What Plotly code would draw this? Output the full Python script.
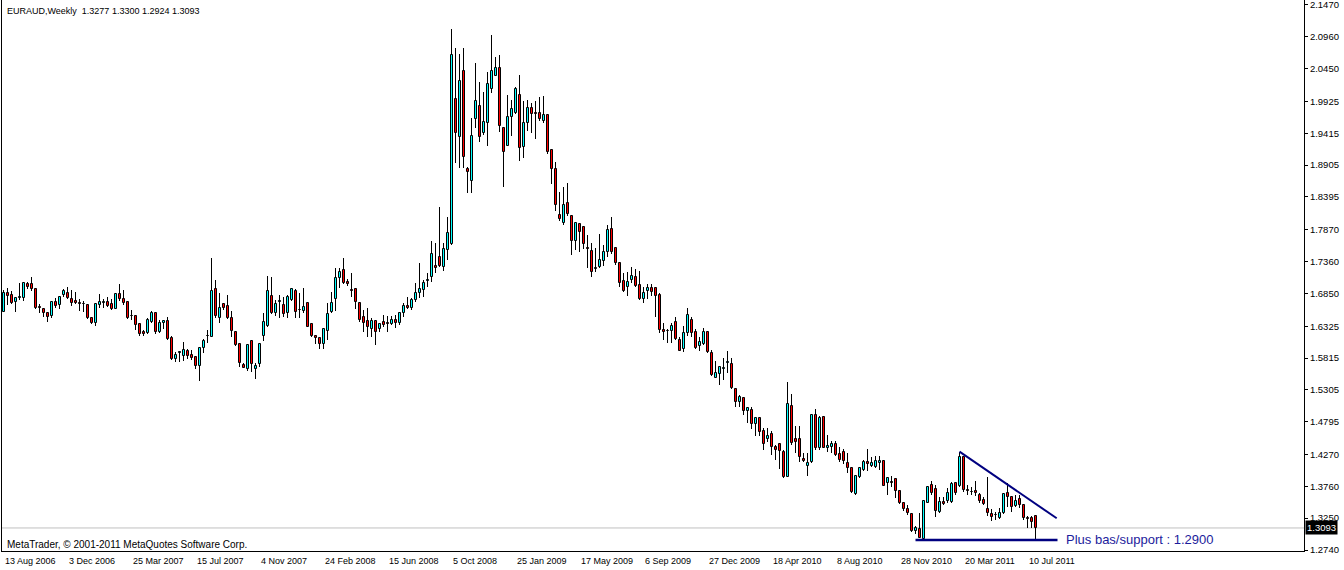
import plotly.graph_objects as go

# ---------------- data (EURAUD weekly) ----------------
opens = [
    1.6558, 1.6851, 1.6825, 1.6718, 1.6782, 1.6771, 1.7001, 1.7001, 1.6921, 1.6627,
    1.6595, 1.6542, 1.6488, 1.6712, 1.6659, 1.6819, 1.6862, 1.6760, 1.6728, 1.6691,
    1.6686, 1.6664, 1.6451, 1.6381, 1.6670, 1.6691, 1.6707, 1.6680, 1.6600, 1.6840,
    1.6755, 1.6707, 1.6493, 1.6488, 1.6360, 1.6232, 1.6210, 1.6397, 1.6542, 1.6237,
    1.6371, 1.6403, 1.6130, 1.5805, 1.5895, 1.5853, 1.5933, 1.5858, 1.5826, 1.5693,
    1.5981, 1.6162, 1.6157, 1.6915, 1.6461, 1.6675, 1.6649, 1.6451, 1.6226, 1.6034,
    1.5703, 1.5634, 1.6088, 1.5645, 1.5719, 1.6173, 1.6328, 1.6809, 1.6542, 1.6713,
    1.6665, 1.6531, 1.6745, 1.6889, 1.6590, 1.6574, 1.6691, 1.6360, 1.6168, 1.6130,
    1.6034, 1.6253, 1.6558, 1.6755, 1.7092, 1.7225, 1.7038, 1.6905, 1.6921, 1.6702,
    1.6477, 1.6414, 1.6275, 1.6414, 1.6275, 1.6392, 1.6376, 1.6355, 1.6419, 1.6380,
    1.6530, 1.6650, 1.6620, 1.6744, 1.6862, 1.6904, 1.7048, 1.7118, 1.7294, 1.7438,
    1.7278, 1.7545, 1.7636, 1.9959, 1.9350, 2.0413, 1.8843, 1.8656, 1.9638, 1.9852,
    1.9425, 1.9574, 2.0119, 2.0338, 2.0455, 1.9494, 1.9216, 1.9670, 1.9734, 2.0028,
    1.9201, 1.9574, 1.9815, 1.9735, 1.9735, 1.9617, 1.9713, 1.9142, 1.8843, 1.8106,
    1.7983, 1.8293, 1.8090, 1.7695, 1.7962, 1.7919, 1.7572, 1.7529, 1.7247, 1.7278,
    1.7375, 1.7519, 1.7876, 1.7572, 1.7343, 1.7054, 1.6948, 1.7065, 1.7108, 1.6985,
    1.6760, 1.6894, 1.6931, 1.6931, 1.6824, 1.6264, 1.6253, 1.6253, 1.6387, 1.6104,
    1.5954, 1.6211, 1.6424, 1.6237, 1.6013, 1.6034, 1.6227, 1.5890, 1.5500, 1.5559,
    1.5645, 1.5736, 1.5714, 1.5314, 1.5105, 1.5169, 1.4972, 1.4983, 1.4753, 1.4849,
    1.4646, 1.4518, 1.4593, 1.4384, 1.4438, 1.4304, 1.3915, 1.5047, 1.4518, 1.4513,
    1.4198, 1.4091, 1.4144, 1.4902, 1.4379, 1.4865, 1.4368, 1.4395, 1.4438, 1.4272,
    1.4315, 1.4128, 1.4048, 1.3637, 1.3904, 1.4029, 1.4155, 1.4086, 1.4064, 1.4128,
    1.4171, 1.3819, 1.3824, 1.3872, 1.3690, 1.3498, 1.3391, 1.3317, 1.3050, 1.3071,
    1.2916, 1.3498, 1.3781, 1.3717, 1.3354, 1.3509, 1.3530, 1.3514, 1.3808, 1.3765,
    1.4224, 1.3695, 1.3674, 1.3690, 1.3621, 1.3541, 1.3391, 1.3311, 1.3306, 1.3247,
    1.3327, 1.3648, 1.3584, 1.3450, 1.3552, 1.3461, 1.3252, 1.3247, 1.3277,
]
highs = [
    1.6905, 1.6931, 1.6894, 1.6798, 1.7011, 1.7038, 1.7027, 1.7118, 1.6931, 1.6680,
    1.6611, 1.6558, 1.6728, 1.6771, 1.6814, 1.6915, 1.6947, 1.6905, 1.6878, 1.6755,
    1.6734, 1.6675, 1.6461, 1.6691, 1.6840, 1.6755, 1.6798, 1.6760, 1.6851, 1.7001,
    1.6905, 1.6718, 1.6584, 1.6504, 1.6371, 1.6264, 1.6451, 1.6568, 1.6558, 1.6424,
    1.6424, 1.6467, 1.6168, 1.5917, 1.5917, 1.6077, 1.5954, 1.5943, 1.5842, 1.5986,
    1.6114, 1.6264, 1.7412, 1.7065, 1.6852, 1.6702, 1.6825, 1.6574, 1.6237, 1.6050,
    1.5730, 1.6024, 1.6104, 1.5730, 1.6040, 1.6542, 1.7129, 1.7118, 1.6745, 1.6825,
    1.6798, 1.6825, 1.6942, 1.6916, 1.6852, 1.6932, 1.6702, 1.6371, 1.6184, 1.6146,
    1.6301, 1.6691, 1.6878, 1.7252, 1.7252, 1.7412, 1.7076, 1.7172, 1.6932, 1.6718,
    1.6585, 1.6611, 1.6451, 1.6424, 1.6382, 1.6504, 1.6488, 1.6488, 1.6500, 1.6560,
    1.6700, 1.6790, 1.6780, 1.7011, 1.7331, 1.7064, 1.7171, 1.7689, 1.7652, 1.8229,
    1.7652, 1.8079, 2.1080, 2.0776, 2.0685, 2.0776, 1.8880, 1.9654, 2.0535, 2.0242,
    2.0082, 2.0402, 2.0989, 2.0642, 2.0669, 1.9521, 2.0028, 1.9948, 2.0162, 2.0349,
    1.9938, 1.9948, 1.9906, 1.9938, 1.9991, 2.0012, 1.9724, 1.9147, 1.8955, 1.8469,
    1.8549, 1.8613, 1.8106, 1.7999, 1.7983, 1.7930, 1.7786, 1.7652, 1.7572, 1.7802,
    1.7625, 1.7946, 1.8069, 1.7580, 1.7359, 1.7172, 1.7198, 1.7268, 1.7236, 1.7214,
    1.6948, 1.7001, 1.7001, 1.6948, 1.6851, 1.6371, 1.6275, 1.6371, 1.6467, 1.6146,
    1.6328, 1.6611, 1.6478, 1.6275, 1.6146, 1.6291, 1.6237, 1.5944, 1.5773, 1.5687,
    1.5810, 1.5933, 1.5810, 1.5340, 1.5223, 1.5185, 1.5025, 1.5025, 1.4876, 1.4865,
    1.4689, 1.4689, 1.4652, 1.4422, 1.4449, 1.4342, 1.5426, 1.5239, 1.4726, 1.4726,
    1.4299, 1.4288, 1.4918, 1.4993, 1.4886, 1.4876, 1.4582, 1.4491, 1.4491, 1.4384,
    1.4352, 1.4299, 1.4060, 1.3941, 1.4075, 1.4182, 1.4353, 1.4235, 1.4246, 1.4246,
    1.4171, 1.3888, 1.3925, 1.3888, 1.3701, 1.3514, 1.3461, 1.3317, 1.3124, 1.3327,
    1.3541, 1.3765, 1.3851, 1.3781, 1.3584, 1.3584, 1.3728, 1.3835, 1.3835, 1.4315,
    1.4235, 1.3781, 1.3755, 1.3851, 1.3648, 1.3584, 1.3904, 1.3391, 1.3354, 1.3407,
    1.3648, 1.3808, 1.3605, 1.3621, 1.3621, 1.3477, 1.3285, 1.3285, 1.3300,
]
lows = [
    1.6547, 1.6664, 1.6675, 1.6558, 1.6744, 1.6734, 1.6915, 1.6894, 1.6606, 1.6542,
    1.6467, 1.6397, 1.6451, 1.6611, 1.6595, 1.6798, 1.6755, 1.6648, 1.6680, 1.6574,
    1.6558, 1.6435, 1.6360, 1.6333, 1.6611, 1.6611, 1.6627, 1.6584, 1.6595, 1.6734,
    1.6664, 1.6435, 1.6424, 1.6264, 1.6168, 1.6168, 1.6200, 1.6381, 1.6194, 1.6210,
    1.6274, 1.6104, 1.5783, 1.5757, 1.5757, 1.5773, 1.5794, 1.5783, 1.5634, 1.5452,
    1.5901, 1.6050, 1.6146, 1.6451, 1.6371, 1.6584, 1.6435, 1.6146, 1.6002, 1.5666,
    1.5650, 1.5612, 1.5596, 1.5474, 1.5676, 1.6093, 1.6307, 1.6520, 1.6488, 1.6451,
    1.6477, 1.6451, 1.6734, 1.6451, 1.6451, 1.6531, 1.6307, 1.6146, 1.6040, 1.5954,
    1.5954, 1.6104, 1.6542, 1.6574, 1.6932, 1.7001, 1.6969, 1.6798, 1.6595, 1.6397,
    1.6237, 1.6157, 1.6157, 1.6024, 1.6237, 1.6307, 1.6237, 1.6344, 1.6290, 1.6350,
    1.6480, 1.6600, 1.6580, 1.6717, 1.6771, 1.6798, 1.6958, 1.7038, 1.7171, 1.7278,
    1.7214, 1.7385, 1.7625, 1.8944, 1.8854, 1.8854, 1.8464, 1.8464, 1.9494, 1.9280,
    1.9387, 1.9211, 2.0066, 2.0333, 1.9441, 1.8560, 1.9211, 1.9371, 1.9724, 1.8976,
    1.9014, 1.9457, 1.9414, 1.9323, 1.9617, 1.9585, 1.9083, 1.8603, 1.8175, 1.8015,
    1.7946, 1.8090, 1.7465, 1.7545, 1.7519, 1.7556, 1.7252, 1.7108, 1.7198, 1.7262,
    1.7294, 1.7439, 1.7481, 1.7305, 1.6948, 1.6878, 1.6808, 1.7022, 1.6948, 1.6744,
    1.6691, 1.6760, 1.6808, 1.6478, 1.6221, 1.6104, 1.6050, 1.6061, 1.6104, 1.5933,
    1.5917, 1.6168, 1.6146, 1.5960, 1.5933, 1.6024, 1.5901, 1.5527, 1.5490, 1.5383,
    1.5463, 1.5570, 1.5314, 1.5036, 1.5025, 1.4902, 1.4769, 1.4678, 1.4566, 1.4571,
    1.4342, 1.4475, 1.4262, 1.4182, 1.4032, 1.3888, 1.3915, 1.4422, 1.4299, 1.4155,
    1.4155, 1.3925, 1.4139, 1.4342, 1.4342, 1.4368, 1.4315, 1.4299, 1.4251, 1.4155,
    1.4112, 1.3968, 1.3650, 1.3621, 1.3888, 1.4011, 1.4011, 1.4064, 1.4048, 1.4022,
    1.3765, 1.3621, 1.3755, 1.3568, 1.3477, 1.3370, 1.3301, 1.3034, 1.2991, 1.2927,
    1.2900, 1.3488, 1.3621, 1.3274, 1.3327, 1.3456, 1.3488, 1.3488, 1.3621, 1.3755,
    1.3674, 1.3621, 1.3621, 1.3605, 1.3488, 1.3461, 1.3285, 1.3210, 1.3221, 1.3231,
    1.3311, 1.3434, 1.3354, 1.3434, 1.3407, 1.3221, 1.3087, 1.3087, 1.2924,
]
closes = [
    1.6851, 1.6814, 1.6702, 1.6771, 1.6787, 1.7011, 1.6947, 1.6926, 1.6622, 1.6616,
    1.6542, 1.6477, 1.6712, 1.6648, 1.6798, 1.6894, 1.6771, 1.6702, 1.6696, 1.6686,
    1.6675, 1.6461, 1.6381, 1.6680, 1.6712, 1.6712, 1.6654, 1.6600, 1.6840, 1.6766,
    1.6702, 1.6461, 1.6483, 1.6344, 1.6200, 1.6200, 1.6424, 1.6542, 1.6237, 1.6381,
    1.6408, 1.6114, 1.5799, 1.5858, 1.5906, 1.5943, 1.5853, 1.5815, 1.5693, 1.5975,
    1.6088, 1.6173, 1.6889, 1.6488, 1.6611, 1.6622, 1.6451, 1.6253, 1.6024, 1.5730,
    1.5661, 1.6024, 1.5719, 1.5687, 1.6040, 1.6397, 1.6889, 1.6531, 1.6680, 1.6734,
    1.6520, 1.6798, 1.6921, 1.6558, 1.6579, 1.6627, 1.6317, 1.6173, 1.6130, 1.6034,
    1.6280, 1.6515, 1.6691, 1.7092, 1.7198, 1.7022, 1.7006, 1.6894, 1.6707, 1.6424,
    1.6382, 1.6307, 1.6414, 1.6237, 1.6360, 1.6339, 1.6365, 1.6419, 1.6380, 1.6530,
    1.6650, 1.6620, 1.6744, 1.6851, 1.6915, 1.7011, 1.7059, 1.7476, 1.7251, 1.7289,
    1.7556, 1.7812, 2.0669, 1.9425, 2.0252, 1.9030, 1.8800, 1.9371, 1.9932, 1.9350,
    1.9590, 2.0199, 2.0413, 2.0455, 1.9537, 1.9110, 1.9670, 1.9798, 2.0119, 1.9178,
    1.9574, 1.9815, 1.9718, 1.9724, 1.9638, 1.9708, 1.9121, 1.8838, 1.8266, 1.8037,
    1.8266, 1.8117, 1.7695, 1.7972, 1.7839, 1.7636, 1.7556, 1.7198, 1.7257, 1.7385,
    1.7508, 1.7866, 1.7519, 1.7332, 1.7022, 1.6894, 1.7028, 1.7129, 1.6969, 1.6760,
    1.6851, 1.6942, 1.6878, 1.6814, 1.6264, 1.6227, 1.6243, 1.6328, 1.6120, 1.5933,
    1.6211, 1.6504, 1.6211, 1.5981, 1.6066, 1.6227, 1.5917, 1.5543, 1.5570, 1.5677,
    1.5655, 1.5746, 1.5330, 1.5116, 1.5196, 1.4972, 1.5009, 1.4753, 1.4849, 1.4635,
    1.4438, 1.4571, 1.4395, 1.4342, 1.4331, 1.3904, 1.5073, 1.4459, 1.4475, 1.4224,
    1.4171, 1.4128, 1.4902, 1.4368, 1.4849, 1.4379, 1.4406, 1.4438, 1.4262, 1.4182,
    1.4171, 1.4048, 1.3664, 1.3925, 1.4048, 1.4155, 1.4118, 1.4128, 1.4171, 1.4166,
    1.3770, 1.3888, 1.3814, 1.3690, 1.3488, 1.3391, 1.3327, 1.3044, 1.3087, 1.2927,
    1.3525, 1.3744, 1.3658, 1.3370, 1.3504, 1.3472, 1.3648, 1.3792, 1.3648, 1.4235,
    1.3701, 1.3685, 1.3669, 1.3648, 1.3525, 1.3472, 1.3327, 1.3274, 1.3296, 1.3338,
    1.3637, 1.3584, 1.3434, 1.3525, 1.3461, 1.3247, 1.3242, 1.3194, 1.3093,
]

date_labels = ["13 Aug 2006", "3 Dec 2006", "25 Mar 2007", "15 Jul 2007", "4 Nov 2007",
               "24 Feb 2008", "15 Jun 2008", "5 Oct 2008", "25 Jan 2009", "17 May 2009",
               "6 Sep 2009", "27 Dec 2009", "18 Apr 2010", "8 Aug 2010", "28 Nov 2010",
               "20 Mar 2011", "10 Jul 2011"]
bars_per_label = 16
price_ticks = [2.1470, 2.0960, 2.0450, 1.9925, 1.9415, 1.8905, 1.8395, 1.7870, 1.7360,
               1.6850, 1.6325, 1.5815, 1.5305, 1.4795, 1.4270, 1.3760, 1.3250, 1.2740]

support_level = 1.2900
support_start_bar = 228
trend_start_bar = 239
trend_end_bar = 263.3
trend_end_price = 1.3248
lines_end_bar = 263.5

symbol_title = "EURAUD,Weekly  1.3277 1.3300 1.2924 1.3093"
copyright_text = "MetaTrader, © 2001-2011 MetaQuotes Software Corp."
support_text = "Plus bas/support : 1.2900"

# ---------------- figure ----------------
n = len(opens)
xs = list(range(n))
FONT = "Liberation Sans"
NAVY = "#000080"
BULL = "#00ffff"
BEAR = "#ff0000"

body_base = [min(o, c) for o, c in zip(opens, closes)]
body_len = [max(abs(c - o), 0.00001) for o, c in zip(opens, closes)]
wick_len = [h - l for h, l in zip(highs, lows)]
body_col = [BULL if c >= o else BEAR for o, c in zip(opens, closes)]

fig = go.Figure()
# wicks (high-low range)
fig.add_trace(go.Bar(x=xs, y=wick_len, base=lows, width=0.25,
                     marker=dict(color="black", line=dict(width=0)),
                     hoverinfo="skip", showlegend=False))
# bodies (open-close)
fig.add_trace(go.Bar(x=xs, y=body_len, base=body_base, width=0.5,
                     marker=dict(color=body_col, line=dict(color="black", width=1)),
                     hoverinfo="skip", showlegend=False))

shapes = [
    dict(type="line", xref="paper", x0=0, x1=1, yref="y", y0=closes[-1], y1=closes[-1],
         line=dict(color="#c0c0c0", width=1), layer="below"),
    dict(type="line", xref="x", yref="y", x0=support_start_bar, x1=lines_end_bar,
         y0=support_level, y1=support_level, line=dict(color=NAVY, width=2.5)),
    dict(type="line", xref="x", yref="y", x0=trend_start_bar, y0=highs[trend_start_bar],
         x1=trend_end_bar, y1=trend_end_price, line=dict(color=NAVY, width=2)),
]

annotations = [
    dict(xref="paper", yref="paper", x=0, y=1, xanchor="left", yanchor="top",
         xshift=3, yshift=-4, text=symbol_title, showarrow=False,
         font=dict(family=FONT, size=9, color="black")),
    dict(xref="paper", yref="paper", x=0, y=0, xanchor="left", yanchor="bottom",
         xshift=3, yshift=-1, text=copyright_text, showarrow=False,
         font=dict(family=FONT, size=10, color="black")),
    dict(xref="x", yref="y", x=lines_end_bar, y=support_level, xanchor="left",
         yanchor="middle", xshift=6, yshift=1, text=support_text, showarrow=False,
         font=dict(family=FONT, size=13, color="#1c1c9c")),
    dict(xref="paper", yref="y", x=1, y=closes[-1], xanchor="left", yanchor="middle",
         xshift=1, text="%.4f" % closes[-1], showarrow=False, bgcolor="black",
         borderpad=1, font=dict(family=FONT, size=9.5, color="white")),
]
for k, lab in enumerate(date_labels):
    annotations.append(dict(xref="x", yref="paper", x=k * bars_per_label, y=0,
                            xanchor="left", yanchor="top", yshift=-3, xshift=-1,
                            text=lab, showarrow=False,
                            font=dict(family=FONT, size=9, color="black")))

fig.update_layout(
    width=1344, height=570,
    margin=dict(l=2, r=40, t=0, b=19, pad=0),
    paper_bgcolor="white", plot_bgcolor="white",
    barmode="overlay", bargap=0,
    showlegend=False,
    shapes=shapes, annotations=annotations,
    xaxis=dict(range=[-0.375, 325.125], showticklabels=False, ticks="", showgrid=False,
               zeroline=False, showline=True, linecolor="black", linewidth=1,
               fixedrange=True),
    yaxis=dict(side="right", range=[1.2724, 2.155], tickvals=price_ticks,
               ticktext=["%.4f" % v for v in price_ticks], ticks="outside", ticklen=3,
               tickcolor="black", showgrid=False, zeroline=False, showline=True,
               mirror=True, linecolor="black", linewidth=1, ticklabeloverflow="allow",
               tickfont=dict(family=FONT, size=9.5, color="black"), fixedrange=True),
)

fig.write_html("out.html", config={"displayModeBar": False},
               post_script="document.body.style.margin='0';document.body.style.overflow='hidden';")
